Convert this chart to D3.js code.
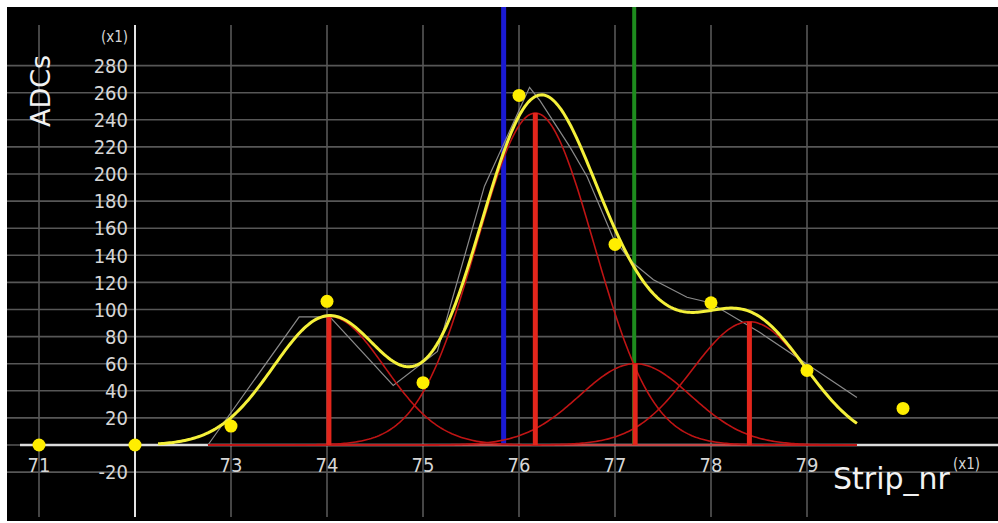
<!DOCTYPE html>
<html>
<head>
<meta charset="utf-8">
<script src="https://cdn.jsdelivr.net/npm/d3@7"></script>
<style>
  body { margin: 0; background: #fff; }
  text { font-family: "DejaVu Sans Condensed", "DejaVu Sans", sans-serif; fill: #d6d6d6; }
</style>
</head>
<body>
<svg id="chart" width="998" height="523"></svg>
<script>
// measured ADC per strip (yellow dots)
const stripNr = [71, 72, 73, 74, 75, 76, 77, 78, 79, 80];
const adcValues = [0, 0, 14, 106, 46, 258, 148, 105, 55, 27];

// thin gray reference trace
const refStrip = [72.76, 73.71, 74.03, 74.69, 75.15, 75.64, 76.11, 76.22, 76.53, 76.71, 76.98, 77.16, 77.4, 77.75, 77.99, 78.51, 79.52];
const refAdc = [0, 94.5, 94.5, 44, 69, 191, 264, 254, 220, 198, 153, 136, 122, 109, 105, 83, 35];

// fitted gaussian components (red)
const peakCenter = [74.02, 76.17, 77.21, 78.4];
const peakHeight = [95, 245, 60, 91];
const peakWidth = [0.58, 0.61, 0.58, 0.6];

// cursor lines
const blueCursor = 75.84;
const greenCursor = 77.2;

// ticks
const stripTicks = [71, 73, 74, 75, 76, 77, 78, 79];
const stripGrid = [71, 73, 74, 75, 76, 77, 78, 79];
const adcTicks = [-20, 20, 40, 60, 80, 100, 120, 140, 160, 180, 200, 220, 240, 260, 280];
const adcGrid = [-20, 0, 20, 40, 60, 80, 100, 120, 140, 160, 180, 200, 220, 240, 260, 280];

const svg = d3.select("#chart");
const x = d3.scaleLinear().domain([71, 79]).range([39, 807]);
const y = d3.scaleLinear().domain([0, 280]).range([445, 65.6]);

const boxTop = 7, boxBottom = 521, boxLeft = 7, boxRight = 998;

svg.append("rect")
  .attr("x", boxLeft).attr("y", boxTop)
  .attr("width", boxRight - boxLeft).attr("height", boxBottom - boxTop)
  .attr("fill", "#000");

// grid
svg.append("g").selectAll("line").data(adcGrid).join("line")
  .attr("x1", boxLeft).attr("x2", boxRight)
  .attr("y1", d => y(d)).attr("y2", d => y(d))
  .attr("stroke", "#575757").attr("stroke-width", 1.6);
svg.append("g").selectAll("line").data(stripGrid).join("line")
  .attr("x1", d => x(d)).attr("x2", d => x(d))
  .attr("y1", 25).attr("y2", 517)
  .attr("stroke", "#575757").attr("stroke-width", 1.6);

// axes
svg.append("line")
  .attr("x1", 20).attr("x2", boxRight)
  .attr("y1", y(0)).attr("y2", y(0))
  .attr("stroke", "#dcdcdc").attr("stroke-width", 2.5);
svg.append("line")
  .attr("x1", x(72)).attr("x2", x(72))
  .attr("y1", 25).attr("y2", 517)
  .attr("stroke", "#e4e4e4").attr("stroke-width", 2);

// tick labels
svg.append("g").selectAll("text").data(stripTicks).join("text")
  .attr("x", d => x(d)).attr("y", y(0) + 27)
  .attr("text-anchor", "middle")
  .attr("font-size", 20)
  .text(d => d);
svg.append("g").selectAll("text").data(adcTicks).join("text")
  .attr("x", 128).attr("y", d => y(d))
  .attr("dy", "0.36em")
  .attr("text-anchor", "end")
  .attr("font-size", 20)
  .text(d => d);

svg.append("text").attr("x", 128).attr("y", 42)
  .attr("text-anchor", "end").attr("font-size", 15).text("(x1)");
svg.append("text")
  .attr("transform", "translate(50,91) rotate(-90)")
  .attr("text-anchor", "middle").attr("font-size", 27)
  .style("font-family", "'DejaVu Sans', sans-serif")
  .style("fill", "#f2f2f2")
  .text("ADCs");
svg.append("text").attr("x", 833).attr("y", 489)
  .attr("font-size", 30)
  .style("font-family", "'DejaVu Sans', sans-serif")
  .style("fill", "#f2f2f2").text("Strip_nr");
svg.append("text").attr("x", 953).attr("y", 469)
  .attr("font-size", 15).text("(x1)");

// cursors
svg.append("line")
  .attr("x1", x(blueCursor)).attr("x2", x(blueCursor))
  .attr("y1", boxTop).attr("y2", y(0))
  .attr("stroke", "#1a1ad2").attr("stroke-width", 5);
svg.append("line")
  .attr("x1", x(greenCursor)).attr("x2", x(greenCursor))
  .attr("y1", boxTop).attr("y2", y(0))
  .attr("stroke", "#1e8c1e").attr("stroke-width", 4);

const line = d3.line().x(d => x(d[0])).y(d => y(d[1]));

// gray trace
svg.append("path")
  .attr("d", line(d3.zip(refStrip, refAdc)))
  .attr("fill", "none").attr("stroke", "#8a8a8a").attr("stroke-width", 1.2);

// gaussian components
const gauss = (i, s) => peakHeight[i] * Math.exp(-((s - peakCenter[i]) ** 2) / (2 * peakWidth[i] ** 2));
const compRange = d3.range(refStrip[0], refStrip[refStrip.length - 1] + 0.001, 0.02);
const sumRange = d3.range(72.24, 79.52, 0.02);

svg.append("g").selectAll("path").data(peakCenter).join("path")
  .attr("d", (c, i) => line(compRange.map(s => [s, gauss(i, s)])))
  .attr("fill", "none").attr("stroke", "#bf1414").attr("stroke-width", 1.6);

svg.append("g").selectAll("line").data(peakCenter).join("line")
  .attr("x1", d => x(d)).attr("x2", d => x(d))
  .attr("y1", y(0)).attr("y2", (d, i) => y(peakHeight[i]))
  .attr("stroke", "#e3261c").attr("stroke-width", 5);

// total fit
svg.append("path")
  .attr("d", line(sumRange.map(s => [s, d3.sum(peakCenter, (c, i) => gauss(i, s))])))
  .attr("fill", "none").attr("stroke", "#f4f03a").attr("stroke-width", 3);

// data points
svg.append("g").selectAll("circle").data(stripNr).join("circle")
  .attr("cx", d => x(d)).attr("cy", (d, i) => y(adcValues[i]))
  .attr("r", 6.5).attr("fill", "#ffee00");
</script>
</body>
</html>
